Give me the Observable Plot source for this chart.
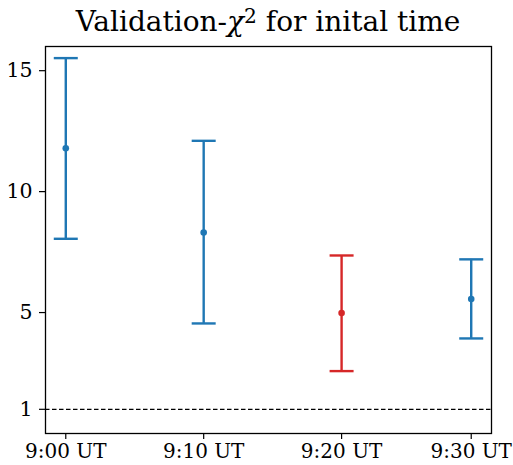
<!DOCTYPE html>
<html>
<head>
<meta charset="utf-8">
<script src="https://cdn.jsdelivr.net/npm/d3@7"></script>
<script src="https://cdn.jsdelivr.net/npm/@observablehq/plot@0.6"></script>
<style>
  html, body { margin: 0; padding: 0; background: #fff; }
  #wrap { width: 513px; height: 465px; overflow: hidden; }
  #title {
    box-sizing: border-box;
    width: 513px; height: 44px;
    padding: 8px 22px 0 45px;
    text-align: center;
    font-family: "DejaVu Serif", serif;
    font-size: 28px; line-height: 28px;
    color: #000;
    white-space: nowrap;
  }
  #title .sup { position: relative; top: -0.42em; font-size: 0.72em; }
</style>
</head>
<body>
<div id="wrap">
  <div id="title">Validation-<i>χ</i><span class="sup">2</span> for inital time</div>
  <div id="chart"></div>
</div>
<script>
// ---- data ----
const timeLabels = ["9:00 UT", "9:10 UT", "9:20 UT", "9:30 UT"];
const minutes    = [0, 10, 20, 29.4];          // minutes after 9:00 UT
const chi2       = [11.79, 8.31, 4.98, 5.56];  // central value
const lower      = [8.05, 4.55, 2.58, 3.93];   // lower end of error bar
const upper      = [15.52, 12.10, 7.36, 7.20]; // upper end of error bar
const highlighted = [false, false, true, false];
const yTicks = [1, 5, 10, 15];
const referenceLevel = [1];

const data = minutes.map((m, i) => ({
  t: m, label: timeLabels[i], v: chi2[i], lo: lower[i], hi: upper[i], hl: highlighted[i]
}));

const capSymbol = {
  draw(context, size) {
    const w = Math.sqrt(size / Math.PI);
    context.moveTo(-w, 0);
    context.lineTo(w, 0);
  }
};

const font = "'DejaVu Serif', serif";
const colorDomain = [false, true];
const colorRange = ["#1f77b4", "#d62728"];

const plot = Plot.plot({
  width: 513,
  height: 421,
  marginTop: 2,
  marginLeft: 45,
  marginRight: 22,
  marginBottom: 32,
  style: { fontFamily: font, background: "#fff", color: "#000" },
  x: { type: "linear", domain: [-1.47, 30.87] },
  y: { domain: [0, 16] },
  color: { domain: colorDomain, range: colorRange },
  marks: [
    Plot.ruleY(referenceLevel, { stroke: "#000", strokeWidth: 1.2, strokeDasharray: "4.5,2.5" }),
    Plot.ruleX(data, { x: "t", y1: "lo", y2: "hi", stroke: "hl", strokeWidth: 2.4 }),
    Plot.dot(data, { x: "t", y: "lo", symbol: capSymbol, r: 12, stroke: "hl", strokeWidth: 2.4, fill: "none" }),
    Plot.dot(data, { x: "t", y: "hi", symbol: capSymbol, r: 12, stroke: "hl", strokeWidth: 2.4, fill: "none" }),
    Plot.dot(data, { x: "t", y: "v", r: 3.3, fill: "hl", stroke: null }),
    Plot.axisX({
      ticks: minutes,
      tickFormat: (d) => timeLabels[minutes.indexOf(d)],
      tickSize: 6, tickPadding: 4, fontSize: 20, fontFamily: font,
      stroke: "#000", strokeWidth: 1.2, fill: "#000", label: null
    }),
    Plot.axisY({
      ticks: yTicks,
      tickFormat: (d) => String(d),
      tickSize: 6, tickPadding: 7, fontSize: 20.5, fontFamily: font,
      stroke: "#000", strokeWidth: 1.2, fill: "#000", label: null
    }),
    Plot.frame({ stroke: "#000", strokeWidth: 1.3 })
  ]
});

document.getElementById("chart").appendChild(plot);
</script>
</body>
</html>
